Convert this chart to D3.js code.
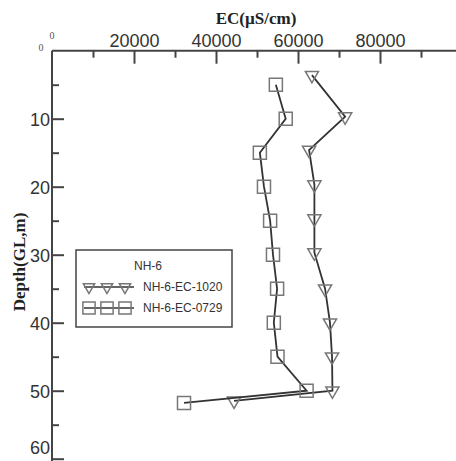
<!DOCTYPE html>
<html><head><meta charset="utf-8">
<script src="https://cdn.jsdelivr.net/npm/d3@7"></script>
<style>body{margin:0;background:#fff}svg{display:block}</style>
</head><body>
<svg id="c" width="456" height="461"></svg>
<script>
const depth1020 = [3.6, 9.7, 14.6, 19.7, 24.7, 29.7, 35, 40, 45, 50, 51.5];
const ec1020    = [63400, 71500, 62700, 64000, 64000, 64000, 66600, 67800, 68300, 68400, 44400];
const depth0729 = [5, 10, 15, 20, 25, 30, 35, 40, 45, 50, 51.8];
const ec0729    = [54600, 57000, 50700, 51700, 53200, 53900, 54900, 54100, 55000, 62100, 32200];
const xTickLabels = [20000, 40000, 60000, 80000];
const yTickLabels = [10, 20, 30, 40, 50, 60];
const legendTitle = "NH-6";
const seriesNames = ["NH-6-EC-1020", "NH-6-EC-0729"];

const svg = d3.select("#c");
const x = d3.scaleLinear().domain([0, 100000]).range([52, 462]);
const y = d3.scaleLinear().domain([0, 60]).range([50.7, 458.7]);
const axisColor = "#444";
const sans = "Liberation Sans, Arial, sans-serif";
const serif = "Liberation Serif, Times New Roman, serif";

// top axis major
const gx = svg.append("g").attr("transform", `translate(0,${y(0)})`);
gx.call(d3.axisTop(x).tickValues(xTickLabels).tickSize(-13).tickPadding(4).tickFormat(d3.format("d")));
const gxm = svg.append("g").attr("transform", `translate(0,${y(0)})`);
gxm.call(d3.axisTop(x).tickValues(d3.range(10000, 100000, 20000)).tickSize(-7).tickFormat(""));
gxm.select(".domain").remove();
gx.select(".domain").attr("d", `M${x(0)},0H456`);
// left axis
const gy = svg.append("g").attr("transform", `translate(${x(0)},0)`);
gy.call(d3.axisLeft(y).tickValues(yTickLabels).tickSize(-12).tickPadding(2).tickFormat(d3.format("d")));
const gym = svg.append("g").attr("transform", `translate(${x(0)},0)`);
gym.call(d3.axisLeft(y).tickValues(d3.range(5, 60, 10)).tickSize(-7).tickFormat(""));
gym.select(".domain").remove();
gy.select(".domain").attr("d", `M0,${y(0)}V461`);

[gx, gxm, gy, gym].forEach(g => {
  g.selectAll("line").attr("stroke", axisColor).attr("stroke-width", 2);
  g.selectAll(".domain").attr("stroke", axisColor).attr("stroke-width", 2);
  g.selectAll("text").attr("font-family", sans).attr("font-size", 18).attr("fill", "#333");
});
gy.selectAll("text").attr("dy", d => d === 60 ? "-0.28em" : "0.36em");

// small zero labels
svg.append("text").attr("x", x(0)).attr("y", 39).attr("text-anchor", "middle")
  .attr("font-family", serif).attr("font-size", 10).attr("fill", "#555").text("0");
svg.append("text").attr("x", 41).attr("y", 51).attr("text-anchor", "middle")
  .attr("font-family", serif).attr("font-size", 10).attr("fill", "#555").text("0");

// axis titles
svg.append("text").attr("x", 256).attr("y", 24).attr("text-anchor", "middle")
  .attr("font-family", serif).attr("font-weight", "bold").attr("font-size", 17).attr("fill", "#222")
  .text("EC(\u00B5S/cm)");
svg.append("text").attr("transform", "translate(25,262) rotate(-90)").attr("text-anchor", "middle")
  .attr("font-family", serif).attr("font-weight", "bold").attr("font-size", 17).attr("fill", "#222")
  .text("Depth(GL,m)");

const markerColor = "#777";
const tri = d3.symbol().type(d3.symbolTriangle).size(75);
const sq = d3.symbol().type(d3.symbolSquare).size(170);
const triL = d3.symbol().type(d3.symbolTriangle).size(55);
const sqL = d3.symbol().type(d3.symbolSquare).size(150);
const line = d3.line().x(d => x(d[0])).y(d => y(d[1]));

const s1 = ec1020.map((v, i) => [v, depth1020[i]]);
const s2 = ec0729.map((v, i) => [v, depth0729[i]]);

function drawSeries(data, sym, rot) {
  svg.append("path").attr("d", line(data)).attr("fill", "none").attr("stroke", "#333").attr("stroke-width", 1.8);
  svg.append("g").selectAll("path").data(data).join("path")
    .attr("d", sym)
    .attr("transform", d => `translate(${x(d[0])},${y(d[1])}) rotate(${rot})`)
    .attr("fill", "none").attr("stroke", markerColor).attr("stroke-width", 1.5);
}
drawSeries(s1, tri, 180);
drawSeries(s2, sq, 0);

// legend
const lg = svg.append("g");
lg.append("rect").attr("x", 76).attr("y", 250).attr("width", 156).attr("height", 77)
  .attr("fill", "#fff").attr("stroke", axisColor).attr("stroke-width", 1.5);
lg.append("text").attr("x", 148).attr("y", 270).attr("text-anchor", "middle")
  .attr("font-family", sans).attr("font-size", 12).attr("fill", "#333").text(legendTitle);
[[triL, 180, 287], [sqL, 0, 308]].forEach((r, i) => {
  lg.append("line").attr("x1", 84).attr("x2", 134).attr("y1", r[2]).attr("y2", r[2])
    .attr("stroke", "#333").attr("stroke-width", 1.5);
  [89, 107, 125].forEach(cx => {
    lg.append("path").attr("d", r[0]).attr("transform", `translate(${cx},${r[2]}) rotate(${r[1]})`)
      .attr("fill", "none").attr("stroke", markerColor).attr("stroke-width", 1.5);
  });
  lg.append("text").attr("x", 143).attr("y", r[2] + 4).attr("font-family", sans).attr("font-size", 12)
    .attr("fill", "#333").text(seriesNames[i]);
});
</script>
</body></html>
